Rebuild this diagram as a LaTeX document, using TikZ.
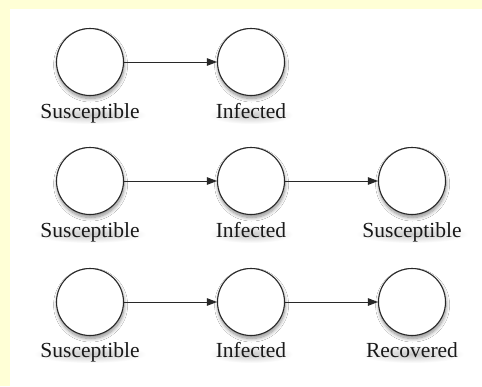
\documentclass[tikz,border=0pt]{standalone}
\usepackage{fontspec}
\setmainfont{Liberation Serif}
\usetikzlibrary{arrows.meta,shadows.blur}

\definecolor{paper}{RGB}{255,255,214}
\definecolor{ink}{RGB}{40,40,40}

\tikzset{
  state/.style={circle, draw=ink, line width=1.1pt, fill=white,
    minimum size=67pt, inner sep=0pt,
    blur shadow={shadow xshift=0.6pt, shadow yshift=-3pt,
      shadow blur radius=3.5pt, shadow blur steps=10, shadow opacity=45}},
  caption/.style={anchor=base, inner sep=0pt, text=black!90,
    font=\fontsize{21.5}{24}\selectfont},
  flow/.style={draw=ink, line width=0.8pt,
    -{Triangle[length=10pt,width=7.5pt]}},
  haze/.style={inner color=black!22, outer color=white}
}

% soft shadow under a caption: centre x, baseline y, half width
\newcommand{\haze}[3]{%
  \shade[haze] (#1,#2-3) ellipse [x radius=#3, y radius=9];
}

\begin{document}
\begin{tikzpicture}[x=1pt,y=-1pt]
  % page: pale yellow frame with a white sheet
  \fill[paper] (0,0) rectangle (482,386);
  \fill[white] (9.5,9) rectangle (482,386);
  \useasboundingbox (0,0) rectangle (482,386);

  % caption shadows
  \haze{90}{118}{56}  \haze{251}{118}{42}
  \haze{90}{237}{56}  \haze{251}{237}{42}  \haze{412}{237}{56}
  \haze{90}{357}{56}  \haze{251}{357}{42}  \haze{412}{357}{52}

  % row 1
  \node[state] (s1) at (90,62) {};
  \node[state] (i1) at (251,62) {};
  \node[caption] (ts1) at (90,118) {Susceptible};
  \node[caption] (ti1) at (251,118) {Infected};
  \draw[flow] (s1) -- (i1);

  % row 2
  \node[state] (s2) at (90,181) {};
  \node[state] (i2) at (251,181) {};
  \node[state] (r2) at (412,181) {};
  \node[caption] (ts2) at (90,237) {Susceptible};
  \node[caption] (ti2) at (251,237) {Infected};
  \node[caption] (tr2) at (412,237) {Susceptible};
  \draw[flow] (s2) -- (i2);
  \draw[flow] (i2) -- (r2);

  % row 3
  \node[state] (s3) at (90,302) {};
  \node[state] (i3) at (251,302) {};
  \node[state] (r3) at (412,302) {};
  \node[caption] (ts3) at (90,357) {Susceptible};
  \node[caption] (ti3) at (251,357) {Infected};
  \node[caption] (tr3) at (412,357) {Recovered};
  \draw[flow] (s3) -- (i3);
  \draw[flow] (i3) -- (r3);
\end{tikzpicture}
\end{document}
